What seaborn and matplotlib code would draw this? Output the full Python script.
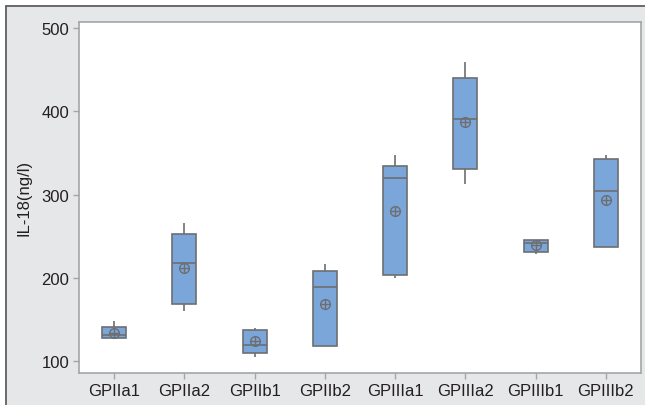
import numpy as np
import pandas as pd
import matplotlib
matplotlib.use("Agg")
import matplotlib.pyplot as plt
from matplotlib.patches import Rectangle
from matplotlib.lines import Line2D
import seaborn as sns

# IL-18 summary statistics per group
groups = ["GPIIa1", "GPIIa2", "GPIIb1", "GPIIb2", "GPIIIa1", "GPIIIa2", "GPIIIb1", "GPIIIb2"]
whisker_low = [127.6, 160.0, 105.5, 118.7, 199.5, 312.6, 228.3, 236.5]
q1 = [127.6, 169.1, 110.3, 118.7, 203.8, 330.9, 231.1, 237.4]
median = [131.2, 217.5, 120.0, 189.0, 320.1, 390.2, 241.5, 304.6]
q3 = [141.5, 252.3, 137.2, 207.9, 333.8, 439.3, 245.8, 342.9]
whisker_high = [148.7, 265.5, 139.6, 216.7, 347.4, 459.2, 245.8, 347.0]
mean = [134.3, 211.9, 124.0, 169.1, 279.9, 386.9, 239.1, 293.8]
yticks = [100, 200, 300, 400, 500]

# five values per group reproduce min / Q1 / median / Q3 / max exactly
rows = []
for g, a, b, c, d, e in zip(groups, whisker_low, q1, median, q3, whisker_high):
    for v in (a, b, c, d, e):
        rows.append({"group": g, "value": v})
df = pd.DataFrame(rows)

sns.set_theme(style="white")
plt.rcParams["font.family"] = ["Liberation Sans", "DejaVu Sans"]

BOX = "#7ba6da"
EDGE = "#6d6e71"
SPINE = "#a3a5a8"
PANEL = "#e6e7e8"
TEXT = "#231f20"

fig = plt.figure(figsize=(6.45, 4.06), dpi=100)
fig.patch.set_facecolor("white")
x0 = 6 / 645
ytop = 1 - 7 / 406
fig.add_artist(Rectangle((x0, 0), 1 - x0, ytop, transform=fig.transFigure,
                         facecolor=PANEL, edgecolor="none", zorder=-10))
fig.add_artist(Line2D([x0, 1], [ytop, ytop], transform=fig.transFigure,
                      color="#5e5f62", linewidth=1.3))
fig.add_artist(Line2D([x0, x0], [0, ytop], transform=fig.transFigure,
                      color="#5e5f62", linewidth=1.3))

ax = fig.add_axes([79 / 645, 1 - 374 / 406, (641 - 79) / 645, (374 - 22.7) / 406])
ax.set_facecolor("white")

sns.boxplot(data=df, x="group", y="value", order=groups, whis=(0, 100),
            width=0.34, color=BOX, saturation=1, linecolor=EDGE, linewidth=1.2,
            showcaps=False, showfliers=False, ax=ax)

# mean markers: circle with crosshair
sns.pointplot(x=groups, y=mean, order=groups, linestyle="none", marker="o",
              markersize=7, markerfacecolor="none", markeredgecolor=EDGE,
              markeredgewidth=1.0, color=EDGE, errorbar=None, ax=ax)
sns.pointplot(x=groups, y=mean, order=groups, linestyle="none", marker="+",
              markersize=7, markeredgewidth=1.0, color=EDGE,
              errorbar=None, ax=ax)

ax.set_xlim(-0.5, len(groups) - 0.5)
ax.set_ylim(86, 507.2)
ax.set_yticks(yticks)
ax.set_xlabel("")
ax.set_ylabel("IL-18(ng/l)", fontsize=12, color=TEXT, labelpad=7)

for s in ax.spines.values():
    s.set_visible(True)
    s.set_color(SPINE)
    s.set_linewidth(1.2)

ax.tick_params(axis="both", which="major", direction="out", length=4, width=1,
               color=SPINE, labelsize=12, labelcolor=TEXT, pad=3,
               left=True, bottom=True)

fig.savefig("out.png", dpi=100, facecolor=fig.get_facecolor())
